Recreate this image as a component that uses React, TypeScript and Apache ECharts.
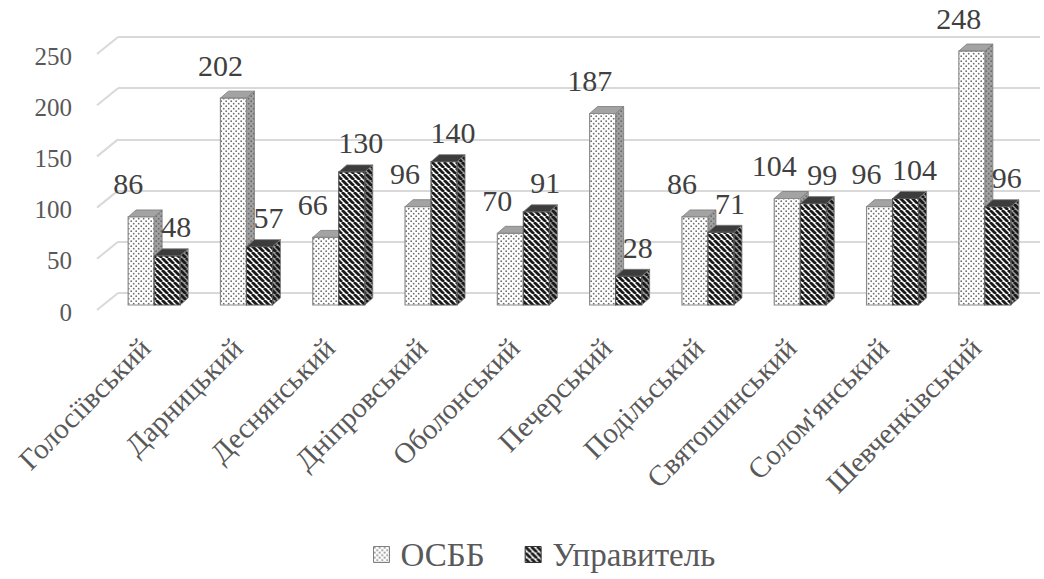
import React, { useEffect, useRef } from 'react';
import * as echarts from 'echarts';

const categories = [
  'Голосіївський',
  'Дарницький',
  'Деснянський',
  'Дніпровський',
  'Оболонський',
  'Печерський',
  'Подільський',
  'Святошинський',
  "Солом'янський",
  'Шевченківський',
];
const seriesNames = ['ОСББ', 'Управитель'];
const osbbValues = [86, 202, 66, 96, 70, 187, 86, 104, 96, 248];
const upravValues = [48, 57, 130, 140, 91, 28, 71, 99, 104, 96];
const yTicks = [0, 50, 100, 150, 200, 250];

const FONT = "'Liberation Serif', 'Times New Roman', serif";
const AXIS_COLOR = '#595959';
const LABEL_COLOR = '#404040';
const GRID_COLOR = '#d9d9d9';

function makePattern(kind: string, bg: string, fg: string) {
  const size = kind === 'dots' ? 5 : 6;
  const cv = document.createElement('canvas');
  cv.width = size;
  cv.height = size;
  const ctx = cv.getContext('2d') as CanvasRenderingContext2D;
  ctx.fillStyle = bg;
  ctx.fillRect(0, 0, size, size);
  if (kind === 'dots') {
    ctx.fillStyle = fg;
    ctx.beginPath();
    ctx.arc(1.2, 1.2, 0.9, 0, Math.PI * 2);
    ctx.fill();
    ctx.beginPath();
    ctx.arc(3.7, 3.7, 0.9, 0, Math.PI * 2);
    ctx.fill();
  } else {
    ctx.strokeStyle = fg;
    ctx.lineWidth = 2.8;
    for (const o of [-size, 0, size]) {
      ctx.beginPath();
      ctx.moveTo(o, 0);
      ctx.lineTo(o + size, size);
      ctx.stroke();
    }
  }
  return { image: cv, repeat: 'repeat', imageWidth: size, imageHeight: size } as any;
}

export default function App() {
  const ref = useRef<HTMLDivElement>(null);
  useEffect(() => {
    if (!ref.current) return;
    const chart = echarts.init(ref.current, undefined, { renderer: 'svg' });

    const dotsFront = makePattern('dots', '#ffffff', '#6e6e6e');
    const dotsSide = makePattern('dots', '#a0a0a0', '#6a6a6a');
    const stripeFront = makePattern('stripes', '#ffffff', '#1a1a1a');
    const stripeSide = makePattern('stripes', '#9a9a9a', '#1a1a1a');

    const BAR_W = 26;
    const DX = 8;
    const DY = 7;

    const makeRender = (si: number) => (params: any, api: any) => {
      const i = api.value(0);
      const v = api.value(1);
      const top = api.coord([i, v]);
      const base = api.coord([i, 0]);
      const c = top[0];
      const x0 = c + (si === 0 ? -27 : -1);
      const yT = top[1];
      const yB = base[1];
      const front = si === 0 ? dotsFront : stripeFront;
      const side = si === 0 ? dotsSide : stripeSide;
      const topFill = si === 0 ? '#a3a3a3' : '#3c3c3c';
      const lx = si === 0 ? c - 27 : c + 21;
      const ly = si === 0 ? yT - 33 : yT - 29;
      return {
        type: 'group',
        children: [
          {
            type: 'polygon',
            shape: {
              points: [
                [x0 + BAR_W, yT],
                [x0 + BAR_W + DX, yT - DY],
                [x0 + BAR_W + DX, yB - DY],
                [x0 + BAR_W, yB],
              ],
            },
            style: { fill: side, stroke: '#7a7a7a', lineWidth: 0.8 },
          },
          {
            type: 'polygon',
            shape: {
              points: [
                [x0, yT],
                [x0 + DX, yT - DY],
                [x0 + BAR_W + DX, yT - DY],
                [x0 + BAR_W, yT],
              ],
            },
            style: { fill: topFill, stroke: '#7a7a7a', lineWidth: 0.8 },
          },
          {
            type: 'rect',
            shape: { x: x0, y: yT, width: BAR_W, height: yB - yT },
            style: { fill: front, stroke: si === 0 ? '#8a8a8a' : '#555555', lineWidth: 1.2 },
          },
          {
            type: 'text',
            style: {
              text: String(v),
              x: lx,
              y: ly,
              fill: LABEL_COLOR,
              fontSize: 30,
              fontFamily: FONT,
              align: 'center',
              verticalAlign: 'middle',
            },
          },
        ],
      };
    };

    const option: any = {
      animation: false,
      backgroundColor: '#ffffff',
      textStyle: { fontFamily: FONT },
      grid: [
        { left: 109, width: 923, top: 49, height: 256 },
        { left: 118, right: 4, top: 37, height: 256 },
        { left: 99, width: 923, top: 56, height: 256 },
      ],
      xAxis: [
        {
          type: 'category',
          gridIndex: 0,
          data: categories,
          axisLine: { show: false },
          axisTick: { show: false },
          axisLabel: { show: false },
        },
        {
          type: 'value',
          gridIndex: 1,
          min: 0,
          max: 1,
          show: false,
        },
        {
          type: 'category',
          gridIndex: 2,
          data: categories,
          axisLine: { show: false },
          axisTick: { show: false },
          axisLabel: {
            rotate: 45,
            margin: 31,
            fontSize: 29,
            fontFamily: FONT,
            color: AXIS_COLOR,
            interval: 0,
          },
        },
      ],
      yAxis: [
        {
          type: 'value',
          gridIndex: 0,
          min: 0,
          max: 250,
          interval: 50,
          show: false,
        },
        {
          type: 'value',
          gridIndex: 1,
          min: 0,
          max: 250,
          interval: 50,
          axisLine: { show: false },
          axisTick: { show: false },
          axisLabel: { show: false },
          splitLine: { show: true, lineStyle: { color: GRID_COLOR, width: 2 } },
        },
        {
          type: 'value',
          gridIndex: 2,
          min: 0,
          max: 250,
          interval: 50,
          axisLine: { show: false },
          axisTick: { show: false },
          splitLine: { show: false },
          axisLabel: {
            margin: 27,
            fontSize: 25,
            fontFamily: FONT,
            color: AXIS_COLOR,
          },
        },
      ],
      legend: {
        data: [
          { name: seriesNames[0], itemStyle: { color: dotsFront, borderColor: '#808080', borderWidth: 1 } },
          { name: seriesNames[1], itemStyle: { color: stripeFront, borderColor: '#333333', borderWidth: 1 } },
        ],
        left: 368,
        top: 533,
        icon: 'rect',
        itemWidth: 16,
        itemHeight: 16,
        itemGap: 40,
        textStyle: { fontSize: 33, fontFamily: FONT, color: AXIS_COLOR, padding: [0, 0, 0, 6] },
      },
      series: [
        {
          type: 'custom',
          name: 'grid-diagonals',
          xAxisIndex: 1,
          yAxisIndex: 1,
          silent: true,
          data: yTicks.map((v) => [0, v]),
          renderItem: (params: any, api: any) => {
            const p = api.coord([0, api.value(1)]);
            return {
              type: 'line',
              shape: { x1: p[0], y1: p[1], x2: p[0] - 21, y2: p[1] + 17 },
              style: { stroke: GRID_COLOR, lineWidth: 2 },
            };
          },
          z: 1,
        },
        {
          type: 'custom',
          name: seriesNames[0],
          xAxisIndex: 0,
          yAxisIndex: 0,
          data: osbbValues.map((v, i) => [i, v]),
          encode: { x: 0, y: 1 },
          itemStyle: { color: dotsFront, borderColor: '#808080' },
          renderItem: makeRender(0),
          z: 2,
        },
        {
          type: 'custom',
          name: seriesNames[1],
          xAxisIndex: 0,
          yAxisIndex: 0,
          data: upravValues.map((v, i) => [i, v]),
          encode: { x: 0, y: 1 },
          itemStyle: { color: stripeFront, borderColor: '#333333' },
          renderItem: makeRender(1),
          z: 3,
        },
      ],
    };

    chart.setOption(option);
    return () => {
      chart.dispose();
    };
  }, []);

  return (
    <div
      ref={ref}
      style={{ position: 'fixed', left: 0, top: 0, width: 1044, height: 579, background: '#fff' }}
    />
  );
}
